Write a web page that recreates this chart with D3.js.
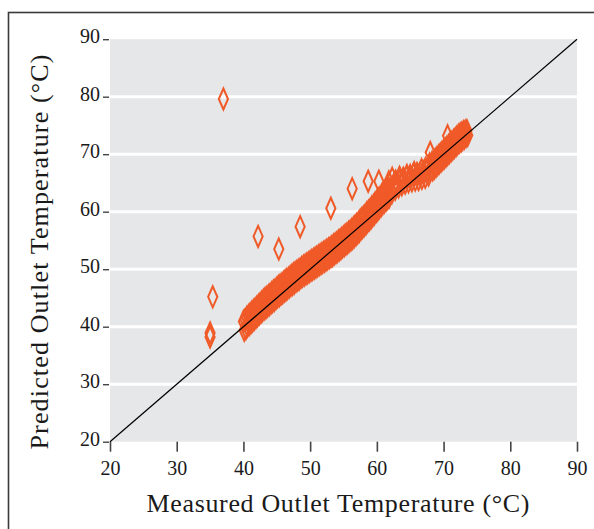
<!DOCTYPE html>
<html>
<head>
<meta charset="utf-8">
<script src="https://cdn.jsdelivr.net/npm/d3@7"></script>
<style>
  body { margin: 0; background: #fff; }
  svg { display: block; font-family: "Liberation Serif", "DejaVu Serif", serif; }
</style>
</head>
<body>
<svg id="chart" width="594" height="529"></svg>
<script>
// dense band of model points: upper and lower edge of the band
const denseMeasured = [
  40.00, 40.25, 40.50, 40.75, 41.00, 41.25, 41.50, 41.75, 42.00, 42.25, 42.50, 42.75,
  43.00, 43.25, 43.50, 43.75, 44.00, 44.25, 44.50, 44.75, 45.00, 45.25, 45.50, 45.75,
  46.00, 46.25, 46.50, 46.75, 47.00, 47.25, 47.50, 47.75, 48.00, 48.25, 48.50, 48.75,
  49.00, 49.25, 49.50, 49.75, 50.00, 50.25, 50.50, 50.75, 51.00, 51.25, 51.50, 51.75,
  52.00, 52.25, 52.50, 52.75, 53.00, 53.25, 53.50, 53.75, 54.00, 54.25, 54.50, 54.75,
  55.00, 55.25, 55.50, 55.75, 56.00, 56.25, 56.50, 56.75, 57.00, 57.25, 57.50, 57.75,
  58.00, 58.25, 58.50, 58.75, 59.00, 59.25, 59.50, 59.75, 60.00, 60.25, 60.50, 60.75,
  61.00, 61.25, 61.50, 61.75,
  68.25, 68.50, 68.75, 69.00, 69.25, 69.50, 69.75, 70.00, 70.25, 70.50, 70.75, 71.00,
  71.25, 71.50, 71.75, 72.00, 72.25, 72.50, 72.75, 73.00, 73.25, 73.50
];
const denseUpper = [
  40.9, 41.2, 41.6, 41.9, 42.2, 42.5, 42.8, 43.1, 43.4, 43.7, 44.0, 44.3,
  44.6, 44.9, 45.1, 45.4, 45.6, 45.9, 46.2, 46.4, 46.7, 47.0, 47.2, 47.4,
  47.7, 48.0, 48.2, 48.4, 48.7, 48.9, 49.2, 49.4, 49.6, 49.8, 50.0, 50.3,
  50.5, 50.7, 50.9, 51.1, 51.3, 51.5, 51.7, 51.9, 52.1, 52.3, 52.5, 52.7,
  52.9, 53.1, 53.3, 53.5, 53.7, 53.9, 54.2, 54.4, 54.6, 54.9, 55.1, 55.4,
  55.6, 55.9, 56.1, 56.4, 56.6, 56.9, 57.2, 57.5, 57.8, 58.1, 58.5, 58.8,
  59.1, 59.4, 59.8, 60.1, 60.4, 60.8, 61.1, 61.5, 61.8, 62.2, 62.5, 62.9,
  63.2, 63.5, 63.8, 64.1,
  68.5, 68.8, 69.1, 69.4, 69.7, 70.0, 70.3, 70.6, 70.9, 71.2, 71.5, 71.8,
  72.1, 72.4, 72.7, 73.0, 73.3, 73.5, 73.7, 73.9, 74.0, 74.1
];
const denseLower = [
  39.4, 39.7, 40.1, 40.4, 40.7, 41.0, 41.3, 41.6, 41.9, 42.2, 42.5, 42.8,
  43.1, 43.3, 43.6, 43.8, 44.1, 44.4, 44.6, 44.9, 45.2, 45.4, 45.7, 45.9,
  46.2, 46.4, 46.7, 46.9, 47.2, 47.4, 47.6, 47.9, 48.1, 48.3, 48.6, 48.8,
  49.0, 49.2, 49.4, 49.6, 49.8, 50.0, 50.2, 50.4, 50.6, 50.8, 51.0, 51.2,
  51.4, 51.6, 51.8, 52.0, 52.2, 52.4, 52.7, 52.9, 53.1, 53.4, 53.6, 53.9,
  54.1, 54.4, 54.6, 54.9, 55.1, 55.4, 55.7, 56.0, 56.3, 56.6, 57.0, 57.3,
  57.6, 57.9, 58.3, 58.6, 58.9, 59.3, 59.6, 60.0, 60.3, 60.7, 61.0, 61.4,
  61.7, 62.0, 62.3, 62.6,
  67.3, 67.6, 67.9, 68.2, 68.5, 68.8, 69.1, 69.4, 69.7, 70.0, 70.3, 70.6,
  70.9, 71.2, 71.5, 71.8, 72.1, 72.3, 72.6, 72.8, 73.1, 73.3
];

// flat shoulder between 62 and 68 °C (looser, outlines show through)
const shoulderMeasured = [
  62.00, 62.25, 62.50, 62.75, 63.00, 63.25, 63.50, 63.75, 64.00, 64.25, 64.50, 64.75,
  65.00, 65.25, 65.50, 65.75, 66.00, 66.25, 66.50, 66.75, 67.00, 67.25, 67.50, 67.75, 68.00
];
const shoulderPredicted = [
  63.9, 63.3, 64.6, 63.9, 65.1, 64.3, 65.5, 64.7, 65.8, 65.0, 66.1, 65.2,
  66.3, 65.4, 66.5, 65.5, 66.6, 65.6, 66.7, 65.8, 66.9, 66.0, 67.2, 66.4, 67.2
];

// loose points above the band and outliers
const scatterMeasured = [
  37.0, 35.0, 35.0, 35.4, 42.2, 45.3, 48.5, 53.1, 56.3, 58.7, 60.3, 68.0, 70.6,
  61.8, 62.3, 62.8, 63.4, 63.9, 64.5, 65.0, 65.6, 66.1, 66.7, 67.3, 67.9
];
const scatterPredicted = [
  79.6, 38.2, 38.9, 45.2, 55.7, 53.5, 57.4, 60.6, 64.0, 65.3, 65.3, 70.3, 73.2,
  65.2, 65.8, 65.3, 66.0, 65.6, 66.3, 66.0, 66.8, 66.5, 67.3, 67.5, 68.3
];

const xTicks = [20, 30, 40, 50, 60, 70, 80, 90];
const yTicks = [20, 30, 40, 50, 60, 70, 80, 90];
const gridValues = [30, 40, 50, 60, 70, 80];
const domainMin = 20, domainMax = 90;

const xTitle = "Measured Outlet Temperature (°C)";
const yTitle = "Predicted Outlet Temperature (°C)";

const svg = d3.select("#chart");
const plot = {left: 110, right: 577, top: 39.2, bottom: 441.7};
const markColor = "#f05a28";

// outer frame
svg.append("rect")
    .attr("x", 8.5).attr("y", 12.5)
    .attr("width", 700).attr("height", 600)
    .attr("fill", "none")
    .attr("stroke", "#3a3a3a")
    .attr("stroke-width", 1.6);

const x = d3.scaleLinear().domain([domainMin, domainMax]).range([plot.left, plot.right]);
const y = d3.scaleLinear().domain([domainMin, domainMax]).range([plot.bottom, plot.top]);

// grey panel
svg.append("rect")
    .attr("x", plot.left).attr("y", plot.top)
    .attr("width", plot.right - plot.left)
    .attr("height", plot.bottom - plot.top)
    .attr("fill", "#e6e7e8");

// white gridlines
svg.append("g").selectAll("line")
    .data(gridValues)
    .join("line")
    .attr("x1", plot.left).attr("x2", plot.right)
    .attr("y1", d => y(d)).attr("y2", d => y(d))
    .attr("stroke", "#fff")
    .attr("stroke-width", 3);

// x axis
const xAxis = svg.append("g")
    .attr("transform", `translate(0,${plot.bottom})`)
    .call(d3.axisBottom(x).tickValues(xTicks).tickSize(10).tickPadding(9).tickFormat(d3.format("d")));
xAxis.select(".domain").remove();
xAxis.selectAll(".tick line").attr("stroke", "#444").attr("stroke-width", 1.6);
xAxis.selectAll("text")
    .attr("fill", "#1a1a1a")
    .style("font-size", "20px")
    .style("font-family", "'Liberation Serif', serif");

// y axis
const yAxis = svg.append("g")
    .attr("transform", `translate(${plot.left - 1},0)`)
    .call(d3.axisLeft(y).tickValues(yTicks).tickSize(6).tickPadding(3).tickFormat(d3.format("d")));
yAxis.select(".domain").remove();
yAxis.selectAll(".tick line").attr("stroke", "#444").attr("stroke-width", 1.4);
yAxis.selectAll("text")
    .attr("fill", "#1a1a1a")
    .attr("dy", "0.18em")
    .style("font-size", "20px")
    .style("font-family", "'Liberation Serif', serif");

// diamond markers
const diamond = "M0,-10.5L4.6,0L0,10.5L-4.6,0Z";
const points = [];
denseMeasured.forEach((m, i) => {
    points.push({m: m, p: denseUpper[i]});
    points.push({m: m + 0.12, p: denseLower[i]});
});
shoulderMeasured.forEach((m, i) => points.push({m: m, p: shoulderPredicted[i]}));
scatterMeasured.forEach((m, i) => points.push({m: m, p: scatterPredicted[i]}));

svg.append("g").selectAll("path")
    .data(points)
    .join("path")
    .attr("d", diamond)
    .attr("transform", d => `translate(${x(d.m)},${y(d.p)})`)
    .attr("fill", "none")
    .attr("stroke", markColor)
    .attr("stroke-width", 2);

// 1:1 line
svg.append("line")
    .attr("x1", x(domainMin)).attr("y1", y(domainMin))
    .attr("x2", x(domainMax)).attr("y2", y(domainMax))
    .attr("stroke", "#000")
    .attr("stroke-width", 1.2);

// axis titles
svg.append("text")
    .attr("x", 338).attr("y", 512)
    .attr("text-anchor", "middle")
    .attr("fill", "#1a1a1a")
    .attr("textLength", 383)
    .attr("lengthAdjust", "spacing")
    .style("font-size", "26px")
    .text(xTitle);

svg.append("text")
    .attr("transform", "translate(48,252) rotate(-90)")
    .attr("text-anchor", "middle")
    .attr("fill", "#1a1a1a")
    .attr("textLength", 395)
    .attr("lengthAdjust", "spacing")
    .style("font-size", "26px")
    .text(yTitle);
</script>
</body>
</html>
